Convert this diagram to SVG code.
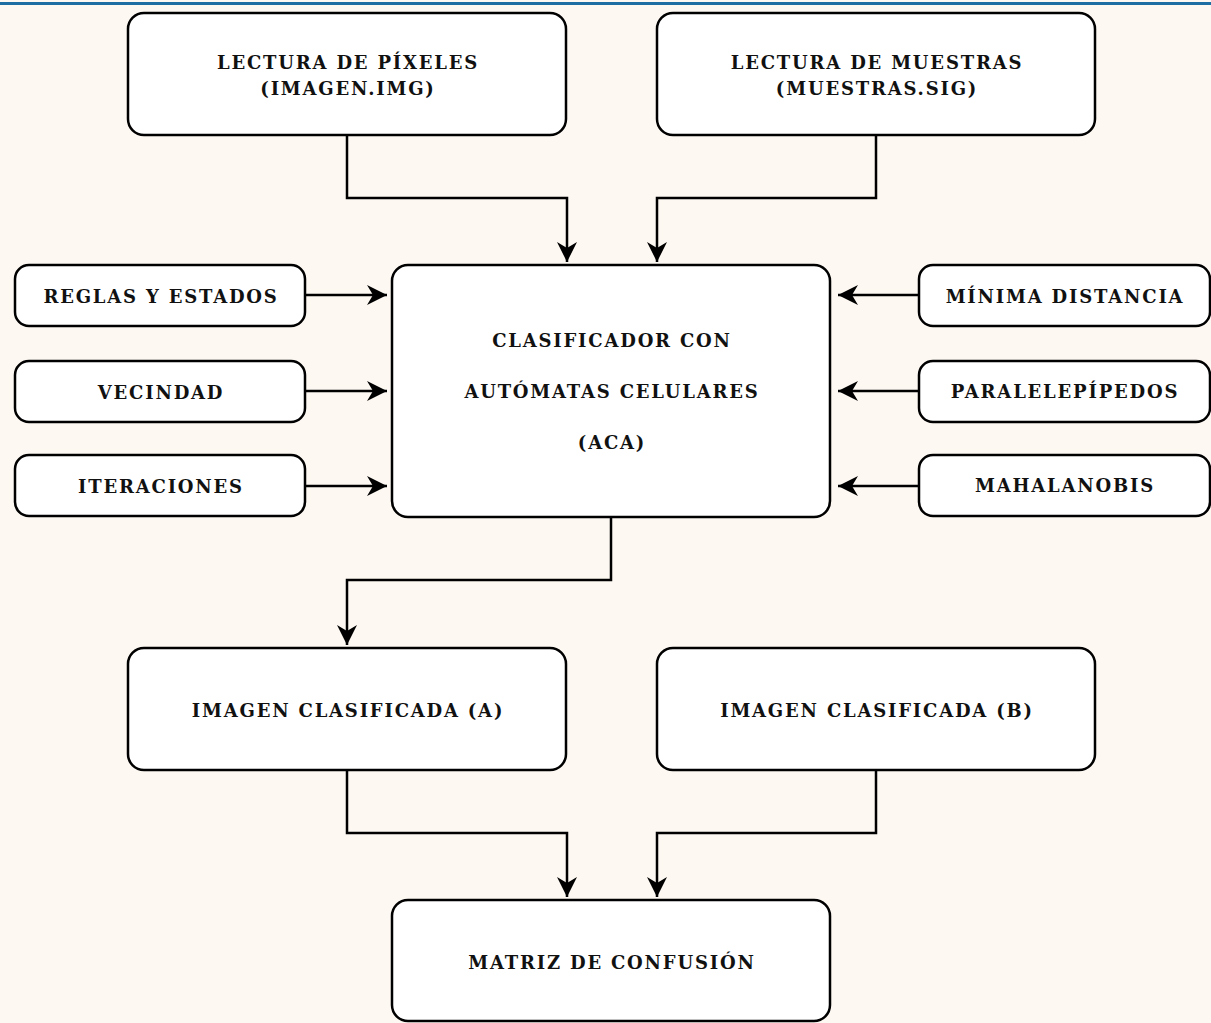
<svg xmlns="http://www.w3.org/2000/svg" width="1211" height="1023" viewBox="0 0 1211 1023">
<defs>
<style>
.node rect{fill:#fff;stroke:#000;stroke-width:2.5}
.node text{font-family:"DejaVu Serif",serif;font-weight:bold;font-size:18px;letter-spacing:1.8px;text-anchor:middle;fill:#111}
.conn path{fill:none;stroke:#000;stroke-width:2.5}
</style>
<marker id="arr" viewBox="0 0 20 20" refX="20" refY="10" markerWidth="20" markerHeight="20" markerUnits="userSpaceOnUse" orient="auto">
<path d="M0,0 L20,10 L0,20 L6,10 Z" fill="#000"/>
</marker>
</defs>
<rect width="1211" height="1023" fill="#fdf8f2"/>
<rect x="0" y="2" width="1211" height="3" fill="#1d6ea3"/>
<g class="conn">
<path d="M347,135 V198 H567 V262" marker-end="url(#arr)"/>
<path d="M876,135 V198 H657 V262" marker-end="url(#arr)"/>
<path d="M305,295 H387" marker-end="url(#arr)"/>
<path d="M305,391 H387" marker-end="url(#arr)"/>
<path d="M305,486 H387" marker-end="url(#arr)"/>
<path d="M919,295 H838" marker-end="url(#arr)"/>
<path d="M919,391 H838" marker-end="url(#arr)"/>
<path d="M919,486 H838" marker-end="url(#arr)"/>
<path d="M611,517 V580 H347 V645" marker-end="url(#arr)"/>
<path d="M347,770 V833 H567 V897" marker-end="url(#arr)"/>
<path d="M876,770 V833 H657 V897" marker-end="url(#arr)"/>
</g>
<g id="n-pixeles" class="node"><rect x="128" y="13" width="438" height="122" rx="16"/><text x="348" y="69">LECTURA DE PÍXELES</text><text x="348" y="95">(IMAGEN.IMG)</text></g>
<g id="n-muestras" class="node"><rect x="657" y="13" width="438" height="122" rx="16"/><text x="877" y="69">LECTURA DE MUESTRAS</text><text x="877" y="95">(MUESTRAS.SIG)</text></g>
<g id="n-aca" class="node"><rect x="392" y="265" width="438" height="252" rx="16"/><text x="612" y="347">CLASIFICADOR CON</text><text x="612" y="398">AUTÓMATAS CELULARES</text><text x="612" y="449">(ACA)</text></g>
<g id="n-reglas" class="node"><rect x="15" y="265" width="290" height="61" rx="14"/><text x="161" y="303">REGLAS Y ESTADOS</text></g>
<g id="n-vecindad" class="node"><rect x="15" y="361" width="290" height="61" rx="14"/><text x="161" y="399">VECINDAD</text></g>
<g id="n-iteraciones" class="node"><rect x="15" y="455" width="290" height="61" rx="14"/><text x="161" y="493">ITERACIONES</text></g>
<g id="n-minima" class="node"><rect x="919" y="265" width="291" height="61" rx="14"/><text x="1065" y="303">MÍNIMA DISTANCIA</text></g>
<g id="n-paralelepipedos" class="node"><rect x="919" y="361" width="291" height="61" rx="14"/><text x="1065" y="398">PARALELEPÍPEDOS</text></g>
<g id="n-mahalanobis" class="node"><rect x="919" y="455" width="291" height="61" rx="14"/><text x="1065" y="492">MAHALANOBIS</text></g>
<g id="n-clasA" class="node"><rect x="128" y="648" width="438" height="122" rx="16"/><text x="348" y="717">IMAGEN CLASIFICADA (A)</text></g>
<g id="n-clasB" class="node"><rect x="657" y="648" width="438" height="122" rx="16"/><text x="877" y="717">IMAGEN CLASIFICADA (B)</text></g>
<g id="n-matriz" class="node"><rect x="392" y="900" width="438" height="121" rx="16"/><text x="612" y="969">MATRIZ DE CONFUSIÓN</text></g>
</svg>
